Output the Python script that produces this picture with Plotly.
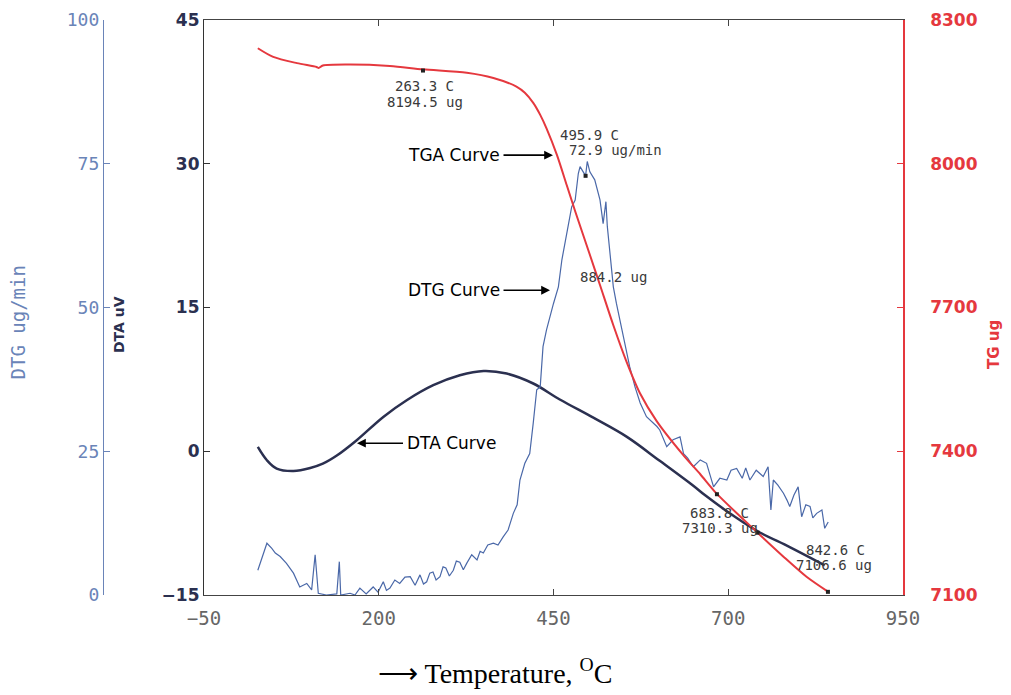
import plotly.graph_objects as go

# ---------------- data ----------------
temp_tg = [27, 49, 83, 111, 114, 120, 159, 216, 263.3, 326, 364, 397, 409, 421, 431, 440, 455,
           469, 481, 502, 516.5, 535.6, 554.7, 573.7, 597.6, 635.7, 660, 683.8, 742, 779, 812,
           842.6]
tg_ug = [8241, 8223, 8210, 8202, 8200, 8205, 8207, 8204, 8197, 8190, 8179, 8161, 8148, 8127, 8102,
         8074, 8018, 7955, 7901, 7810, 7747, 7663, 7586, 7521, 7463, 7392, 7352, 7311, 7230, 7180,
         7138, 7107]

temp_dta = [27, 40, 54, 78, 102, 120, 140, 168.5, 206.5, 240, 278, 316, 350, 383, 421, 459, 507,
            555, 602, 650, 667, 695, 741, 788, 838]
dta_uv = [0.45, -0.94, -1.81, -2.06, -1.75, -1.3, -0.45, 1.15, 3.58, 5.32, 6.89, 7.93, 8.38, 8.11,
          7.07, 5.4, 3.5, 1.5, -1.0, -3.6, -4.6, -6.1, -8.3, -10.0, -11.9]

temp_dtg = [27, 40, 47, 52, 59, 68, 78, 87, 97, 104, 109, 113.5, 125, 140, 143.6, 145.6, 159, 166,
            173, 182, 192, 199, 206.5, 211, 216, 223, 230, 237.5, 245, 252, 259, 264, 268.6, 273,
            277.6, 282, 287.6, 292, 296, 301, 306.7, 311, 316, 321, 325.8, 333, 340.6, 345, 349.6,
            356, 364, 370.6, 378, 385, 392.5, 398, 402, 409, 416, 419, 421, 426, 431, 435, 440,
            450, 457, 462, 469, 476, 481, 485.5, 488, 492.6, 495.9, 498.3, 502, 509, 516.5, 521,
            525, 527, 531, 535.6, 540, 545, 552, 559, 566.6, 574, 583, 593, 598, 602, 612, 621,
            631, 636, 642, 650, 660, 669, 674, 679, 688, 698, 704, 712, 720, 725, 731, 740, 750,
            757, 761, 764.5, 771, 779, 784, 788, 794, 800, 805, 811, 817, 821, 826.5, 834, 838,
            843]
dtg_ugmin = [4.3, 9.0, 8.1, 7.3, 6.7, 5.5, 3.8, 1.4, 2.0, 0.9, 7.0, 0.3, 0.0, 0.2, 5.8, 0.0, 0.3,
             0.0, 1.2, 0.2, 1.4, 0.5, 2.3, 0.8, 1.2, 2.6, 2.0, 3.1, 3.2, 1.7, 3.5, 1.9, 2.3, 3.8,
             4.0, 2.6, 3.2, 4.9, 4.7, 3.3, 4.3, 5.9, 5.7, 4.4, 5.5, 7.0, 6.1, 7.6, 7.3, 8.7, 9.0,
             8.7, 10.1, 11.3, 14.2, 15.7, 20.0, 22.9, 24.6, 27.5, 29.9, 35.7, 36.2, 43.2, 46.1,
             50.7, 53.6, 58.3, 62.9, 67.5, 68.7, 73.3, 74.5, 73.6, 72.9, 75.4, 73.6, 72.2, 68.7,
             64.6, 68.4, 64.1, 58.8, 53.6, 50.7, 47.8, 43.8, 39.7, 36.2, 33.4, 31.0, 29.9, 29.3,
             28.7, 25.8, 27.0, 27.5, 24.6, 23.8, 22.3, 23.5, 22.9, 20.9, 18.8, 20.3, 20.0, 21.7,
             22.0, 20.3, 22.1, 20.0, 21.7, 20.6, 22.3, 14.8, 20.0, 19.1, 17.7, 16.5, 15.4, 17.4,
             18.8, 13.6, 15.7, 15.4, 13.4, 14.2, 14.8, 11.6, 12.7]

mark_tg_temp = [263.3, 683.8, 742, 842.6]
mark_tg_val = [8194.5, 7310.3, 7230, 7106.6]
mark_dtg_temp = [495.9]
mark_dtg_val = [72.9]

x_ticks = [-50, 200, 450, 700, 950]
dta_ticks = [-15, 0, 15, 30, 45]
dtg_ticks = [0, 25, 50, 75, 100]
tg_ticks = [7100, 7400, 7700, 8000, 8300]

# ---------------- colours ----------------
RED = "#e5383e"
NAVY = "#2b3050"
BLUE = "#4a68a8"
BLUE_AX = "#6a84b8"
GREY = "#666666"

W, H = 1011, 695
x0, x1 = 204, 903
y0, y1 = 20, 595

fig = go.Figure()
fig.add_trace(go.Scatter(x=temp_dtg, y=dtg_ugmin, mode="lines", yaxis="y2",
                         line=dict(color=BLUE, width=1.2), showlegend=False))
fig.add_trace(go.Scatter(x=temp_dta, y=dta_uv, mode="lines", yaxis="y",
                         line=dict(color=NAVY, width=2.5, shape="spline", smoothing=1),
                         showlegend=False))
fig.add_trace(go.Scatter(x=temp_tg, y=tg_ug, mode="lines", yaxis="y3",
                         line=dict(color=RED, width=2, shape="spline", smoothing=0.8),
                         showlegend=False))
fig.add_trace(go.Scatter(x=mark_tg_temp, y=mark_tg_val, mode="markers", yaxis="y3",
                         marker=dict(symbol="square", size=4, color="#222"), showlegend=False))
fig.add_trace(go.Scatter(x=mark_dtg_temp, y=mark_dtg_val, mode="markers", yaxis="y2",
                         marker=dict(symbol="square", size=4, color="#222"), showlegend=False))

mono = "DejaVu Sans Mono"
sans = "DejaVu Sans"

annotations = []
def txt(x, y, s, size=14, color="#3a3a3a", family=mono):
    annotations.append(dict(x=x, y=y, xref="x", yref="y", text=s, showarrow=False,
                            xanchor="center", yanchor="middle", borderpad=0,
                            font=dict(family=family, size=size, color=color)))

txt(266, 38.1, "263.3 C")
txt(266, 36.4, "8194.5 ug")
txt(501, 33.0, "495.9 C")
txt(539, 31.4, "72.9 ug/min")
txt(536.5, 18.2, "884.2 ug")
txt(688, -6.4, "683.8 C")
txt(688, -8.0, "7310.3 ug")
txt(853, -10.3, "842.6 C")
txt(851, -11.9, "7106.6 ug")

def arrow(x, y, s, ax):
    annotations.append(dict(x=x, y=y, xref="x", yref="y", text=s, showarrow=True,
                            ax=ax, ay=0, arrowhead=2, arrowsize=1.1, arrowwidth=1.6,
                            arrowcolor="black", standoff=0, startstandoff=2,
                            font=dict(family=sans, size=17, color="black")))

arrow(449.3, 30.9, "TGA Curve", -99)
arrow(445.0, 16.8, "DTG Curve", -96)
arrow(168.9, 0.84, "DTA Curve", 94)

# axis titles
def paper_txt(px, py, s, font, angle=-90):
    annotations.append(dict(x=px / W, y=1 - py / H, xref="paper", yref="paper", text=s,
                            textangle=angle, showarrow=False, xanchor="center",
                            yanchor="middle", font=font))

paper_txt(17.5, 323, "DTG ug/min", dict(family=mono, size=19, color=BLUE_AX))
paper_txt(119, 325, "DTA uV", dict(family=sans, size=14, color=NAVY, weight="bold"))
paper_txt(994, 345, "TG ug", dict(family=sans, size=15, color=RED, weight="bold"))
paper_txt(495, 671, "\u27f6 Temperature, <sup>O</sup>C",
          dict(family="Liberation Serif", size=28, color="black"), angle=0)

fig.update_layout(
    width=W, height=H, autosize=False,
    margin=dict(l=0, r=0, t=0, b=0, pad=0, autoexpand=False),
    paper_bgcolor="white", plot_bgcolor="white",
    annotations=annotations,
    xaxis=dict(domain=[x0 / W, x1 / W], range=[-50, 950], tickvals=x_ticks, automargin=False,
               showgrid=False, zeroline=False, showline=True, linecolor="#444", linewidth=1.2,
               mirror="ticks", ticks="inside", ticklen=6, tickcolor="#444",
               tickfont=dict(family=mono, size=19, color=GREY), ticklabelstandoff=6),
    yaxis=dict(domain=[1 - y1 / H, 1 - y0 / H], range=[-15, 45], tickvals=dta_ticks,
               automargin=False,
               showgrid=False, zeroline=False, showline=True, linecolor="#333", linewidth=1.2,
               ticks="inside", ticklen=6, tickcolor="#333",
               tickfont=dict(family=sans, size=17, color=NAVY, weight="bold"),
               ticklabelstandoff=0),
    yaxis2=dict(overlaying="y", anchor="free", position=103 / W, side="left", automargin=False,
                range=[0, 100], tickvals=dtg_ticks, showgrid=False, zeroline=False,
                showline=True, linecolor=BLUE_AX, linewidth=1.2, ticks="inside", ticklen=6,
                tickcolor=BLUE_AX, tickfont=dict(family=mono, size=18, color=BLUE_AX),
                ticklabelstandoff=0),
    yaxis3=dict(overlaying="y", anchor="x", side="right", range=[7100, 8300], automargin=False,
                tickvals=tg_ticks, showgrid=False, zeroline=False, showline=True,
                linecolor=RED, linewidth=1.5, ticks="inside", ticklen=6, tickcolor=RED,
                tickfont=dict(family=sans, size=17, color=RED, weight="bold"),
                ticklabelstandoff=22),
)

fig.write_html("out.html", config={"displayModeBar": False},
               post_script="document.body.style.margin='0';")
